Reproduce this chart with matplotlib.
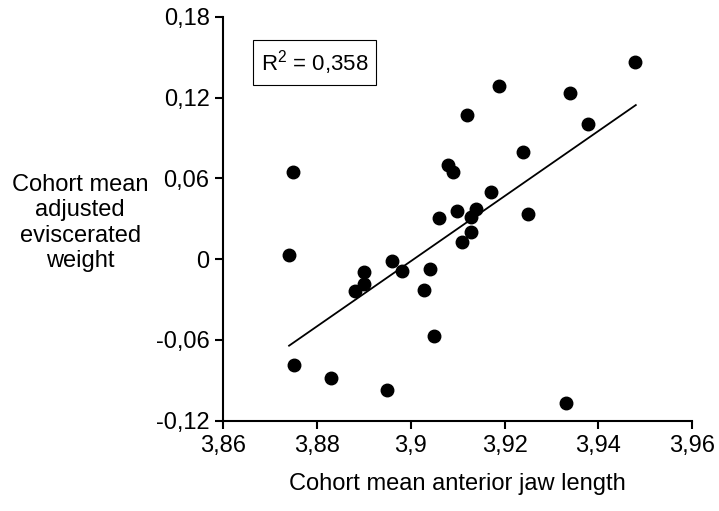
import matplotlib
matplotlib.use("Agg")
import matplotlib.pyplot as plt

# cohort means
jaw_length = [3.8748, 3.874, 3.875, 3.8829, 3.8949, 3.888, 3.890, 3.890,
              3.896, 3.898, 3.9029, 3.904, 3.905, 3.906, 3.9099, 3.914,
              3.9129, 3.9129, 3.911, 3.9249, 3.933, 3.9479, 3.9189, 3.912,
              3.934, 3.9379, 3.9239, 3.908, 3.909, 3.917]
evisc_weight = [0.0647, 0.003, -0.079, -0.088, -0.097, -0.0237, -0.0094, -0.0183,
                -0.0014, -0.0091, -0.0229, -0.0071, -0.0571, 0.0307, 0.0357, 0.037,
                0.0315, 0.0199, 0.0127, 0.0335, -0.107, 0.1466, 0.1283, 0.1068,
                0.1236, 0.1006, 0.0795, 0.0701, 0.0647, 0.0496]

# regression line end points
fit_x = [3.874, 3.948]
fit_y = [-0.0643, 0.1144]
r2_label = r"R$^2$ = 0,358"

x_ticks = [3.86, 3.88, 3.90, 3.92, 3.94, 3.96]
x_tick_labels = ["3,86", "3,88", "3,9", "3,92", "3,94", "3,96"]
y_ticks = [0.18, 0.12, 0.06, 0.0, -0.06, -0.12]
y_tick_labels = ["0,18", "0,12", "0,06", "0", "-0,06", "-0,12"]

plt.rcParams["font.family"] = ["Liberation Sans", "DejaVu Sans"]
plt.rcParams["mathtext.fontset"] = "custom"
plt.rcParams["mathtext.rm"] = "Liberation Sans"
plt.rcParams["mathtext.it"] = "Liberation Sans"
plt.rcParams["mathtext.default"] = "regular"
FS = 17

fig = plt.figure(figsize=(7.19, 5.11), dpi=100)
ax = fig.add_axes([0.3108, 0.1767, 0.6517, 0.7906])

ax.plot(jaw_length, evisc_weight, "o", color="black", ms=9, mec="black")
ax.plot(fit_x, fit_y, color="black", lw=1.3)

ax.set_xlim(3.86, 3.96)
ax.set_ylim(-0.12, 0.18)
ax.set_xticks(x_ticks)
ax.set_xticklabels(x_tick_labels)
ax.set_yticks(y_ticks)
ax.set_yticklabels(y_tick_labels)

for side in ("top", "right"):
    ax.spines[side].set_visible(False)
for side in ("left", "bottom"):
    ax.spines[side].set_linewidth(1.5)
ax.tick_params(direction="out", length=6, width=1.5, labelsize=FS, pad=4)

ax.set_xlabel("Cohort mean anterior jaw length", fontsize=FS, labelpad=12)
ax.set_ylabel("Cohort mean\nadjusted\neviscerated\nweight", fontsize=FS,
              rotation=0, ha="center", va="center", linespacing=1.2)
ax.yaxis.set_label_coords(-0.306, 0.489)

ax.text(0.1947, 0.8866, r2_label, transform=ax.transAxes, fontsize=16,
        ha="center", va="center",
        bbox=dict(boxstyle="square,pad=0.35", fc="white", ec="black", lw=0.8))

fig.savefig("out.png", dpi=100)
